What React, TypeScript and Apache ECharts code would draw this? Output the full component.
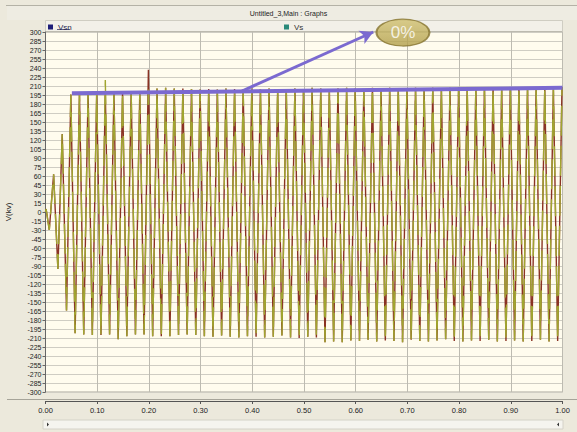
import React, { useEffect, useRef } from "react";
import * as echarts from "echarts";

// ---- data ----
const PERIOD = 1 / 60; // 60 Hz waveform
const T_FIRST_TROUGH = 0.0073;
const T_FIRST_PEAK = 0.0157;

// positive peaks (one per cycle) of Vs
const vsPeaks = [
  63, 130, 196, 198, 199, 198, 220, 199, 200, 199, 200, 204, 206, 207, 206, 206, 205,
  204, 205, 204, 206, 205, 204, 206, 205, 206, 204, 205, 206, 205, 207, 206, 205, 206,
  207, 206, 205, 207, 206, 207, 206, 205, 207, 206, 207, 206, 207, 208, 206, 207, 208,
  207, 206, 208, 207, 208, 207, 208, 207, 208,
];
// positive peaks of Vsn
const vsnPeaks = [
  63, 130, 196, 198, 199, 198, 200, 199, 200, 199, 200, 237, 206, 207, 206, 206, 205,
  204, 205, 204, 206, 205, 204, 206, 205, 206, 204, 205, 206, 205, 207, 206, 205, 206,
  207, 206, 205, 207, 206, 207, 206, 205, 207, 206, 207, 206, 207, 208, 206, 207, 208,
  207, 206, 208, 207, 208, 207, 208, 207, 208,
];
// negative peaks (one per cycle), shared by both traces
const troughs = [
  -30, -95, -164, -202, -204, -205, -205, -204, -212, -207, -204, -204, -207, -207, -207,
  -205, -204, -205, -207, -208, -206, -208, -209, -207, -208, -209, -208, -206, -209,
  -210, -208, -209, -217, -216, -217, -214, -215, -213, -216, -214, -215, -217, -213,
  -215, -216, -214, -212, -215, -216, -214, -215, -213, -216, -215, -214, -216, -215,
  -213, -216, -215,
];
const startPoints: [number, number][] = [
  [0, 0],
  [0.0012, 5],
];
const trendLine: [number, number][] = [
  [0.051, 198],
  [1.0, 207],
];
const arrowFrom: [number, number] = [0.376, 200];
const arrowTo: [number, number] = [0.634, 300];
const calloutPoint: [number, number] = [0.6915, 299];
const calloutText = "0%";
const titleText = "Untitled_3,Main : Graphs";
const yName = "V(kv)";

function buildWave(peaks: number[], lows: number[]): [number, number][] {
  const pts: [number, number][] = startPoints.map((p) => [p[0], p[1]]);
  const n = Math.min(peaks.length, lows.length);
  for (let i = 0; i < n; i++) {
    pts.push([T_FIRST_TROUGH + i * PERIOD, lows[i]]);
    pts.push([T_FIRST_PEAK + i * PERIOD, peaks[i]]);
  }
  return pts;
}

const W = 577;
const H = 432;
const GL = 45.5;
const GR = 14.5;
const GT = 32;
const GB = 40;

export default function App() {
  const ref = useRef<HTMLDivElement>(null);
  useEffect(() => {
    if (!ref.current) return;
    document.body.style.margin = "0";
    document.body.style.overflow = "hidden";
    const chart = echarts.init(ref.current, undefined, { renderer: "svg" });
    const narrow = "'Liberation Sans Narrow', 'Liberation Sans', sans-serif";
    const purple = "#7b6ad0";
    const option: any = {
      animation: false,
      backgroundColor: "#ece9dc",
      tooltip: { show: false },
      legend: [
        {
          data: [{ name: "Vsn", icon: "rect", itemStyle: { color: "#1e1e78" } }],
          left: 43,
          top: 18,
          itemWidth: 5,
          itemHeight: 5,
          itemGap: 3,
          selectedMode: false,
          textStyle: { fontSize: 8, color: "#1e1e50", fontFamily: "'Liberation Sans', sans-serif" },
        },
        {
          data: [{ name: "Vs", icon: "rect", itemStyle: { color: "#2a8a7a" } }],
          left: 279,
          top: 18,
          itemWidth: 5,
          itemHeight: 5,
          itemGap: 3,
          selectedMode: false,
          textStyle: { fontSize: 8, color: "#333", fontFamily: "'Liberation Sans', sans-serif" },
        },
      ],
      grid: {
        left: GL,
        right: GR,
        top: GT,
        bottom: GB,
        outerBoundsMode: "none",
        containLabel: false,
        show: true,
        backgroundColor: "#fffcee",
        borderColor: "#a9a79c",
        borderWidth: 1,
      },
      xAxis: {
        type: "value",
        min: 0,
        max: 1,
        interval: 0.1,
        offset: 9,
        axisLine: { show: true, onZero: false, lineStyle: { color: "#555", width: 1 } },
        axisTick: { show: true, length: 3, lineStyle: { color: "#555" } },
        axisLabel: {
          formatter: (v: number) => v.toFixed(2),
          fontSize: 7.5,
          color: "#222",
          margin: 5,
          fontFamily: narrow,
        },
        splitLine: { show: true, lineStyle: { color: "#bdbbb1", width: 1 } },
      },
      yAxis: {
        type: "value",
        min: -300,
        max: 300,
        interval: 15,
        name: yName,
        nameLocation: "middle",
        nameGap: 33,
        nameRotate: 90,
        nameTextStyle: { fontSize: 8, color: "#222", fontFamily: "'Liberation Sans', sans-serif" },
        axisLine: { show: true, lineStyle: { color: "#666" } },
        axisTick: { show: true, length: 3, lineStyle: { color: "#666" } },
        axisLabel: { fontSize: 7, color: "#222", margin: 4, fontFamily: narrow },
        splitLine: { show: true, lineStyle: { color: "#cfcdc3", width: 1 } },
      },
      series: [
        {
          name: "Vsn",
          type: "line",
          data: buildWave(vsnPeaks, troughs),
          showSymbol: false,
          symbol: "none",
          lineStyle: { color: "#8a3222", width: 1.4 },
          itemStyle: { color: "#8a3222" },
          z: 2,
        },
        {
          name: "Vs",
          type: "line",
          data: buildWave(vsPeaks, troughs),
          showSymbol: false,
          symbol: "none",
          lineStyle: { color: "#a0a530", width: 1.4, type: [30, 10] },
          itemStyle: { color: "#a0a530" },
          z: 3,
        },
        {
          name: "trend",
          type: "line",
          data: trendLine,
          showSymbol: false,
          symbol: "none",
          lineStyle: { color: purple, width: 4 },
          clip: false,
          z: 5,
          markLine: {
            silent: true,
            symbol: ["none", "arrow"],
            symbolSize: [11, 13],
            label: { show: false },
            lineStyle: { color: purple, width: 3, type: "solid" },
            data: [[{ coord: arrowFrom }, { coord: arrowTo }]],
            z: 6,
          },
        },
        {
          name: "callout",
          type: "scatter",
          data: [calloutPoint],
          symbol: "circle",
          symbolSize: [53, 27],
          clip: false,
          silent: true,
          z: 8,
          itemStyle: {
            color: new echarts.graphic.LinearGradient(0, 0, 0, 1, [
              { offset: 0, color: "#d2c272" },
              { offset: 1, color: "#b09d48" },
            ]),
            borderColor: "#877632",
            borderWidth: 1.5,
          },
          label: {
            show: true,
            position: "inside",
            formatter: () => calloutText,
            color: "#ffffff",
            fontSize: 17,
            fontFamily: "'Liberation Sans', sans-serif",
          },
        },
      ],
      graphic: [
        { type: "line", shape: { x1: 6, y1: 5.5, x2: W, y2: 5.5 }, style: { stroke: "#b4b2a6", lineWidth: 1 }, silent: true },
        { type: "rect", shape: { x: 7, y: 6, width: W - 7, height: 14 }, style: { fill: "#eeece2" }, silent: true, z: -1 },
        {
          type: "text",
          x: W / 2,
          y: 13,
          style: { text: titleText, fill: "#222", fontSize: 7, align: "center", verticalAlign: "middle", fontFamily: narrow },
          silent: true,
        },
        { type: "rect", shape: { x: GL, y: 20.5, width: W - GL - GR, height: 11 }, style: { fill: "#f2f0e8", stroke: "#cfcdc2", lineWidth: 1 }, silent: true, z: -1 },
        { type: "line", shape: { x1: 57, y1: 29.5, x2: 70, y2: 29.5 }, style: { stroke: "#1e1e50", lineWidth: 0.7 }, silent: true },
        { type: "line", shape: { x1: 7, y1: 399.5, x2: W, y2: 399.5 }, style: { stroke: "#a6a499", lineWidth: 1 }, silent: true },
        { type: "rect", shape: { x: 43, y: 420, width: 520, height: 9 }, style: { fill: "#f5f4ef", stroke: "#d4d2c8", lineWidth: 1 }, silent: true },
        { type: "polygon", shape: { points: [[49, 424.5], [47, 422.5], [47, 426.5]] }, style: { fill: "#333" }, silent: true },
        { type: "polygon", shape: { points: [[557, 424.5], [559, 422.5], [559, 426.5]] }, style: { fill: "#333" }, silent: true },
      ],
    };
    chart.setOption(option);
    return () => chart.dispose();
  }, []);
  return <div ref={ref} style={{ width: W, height: H }} />;
}
